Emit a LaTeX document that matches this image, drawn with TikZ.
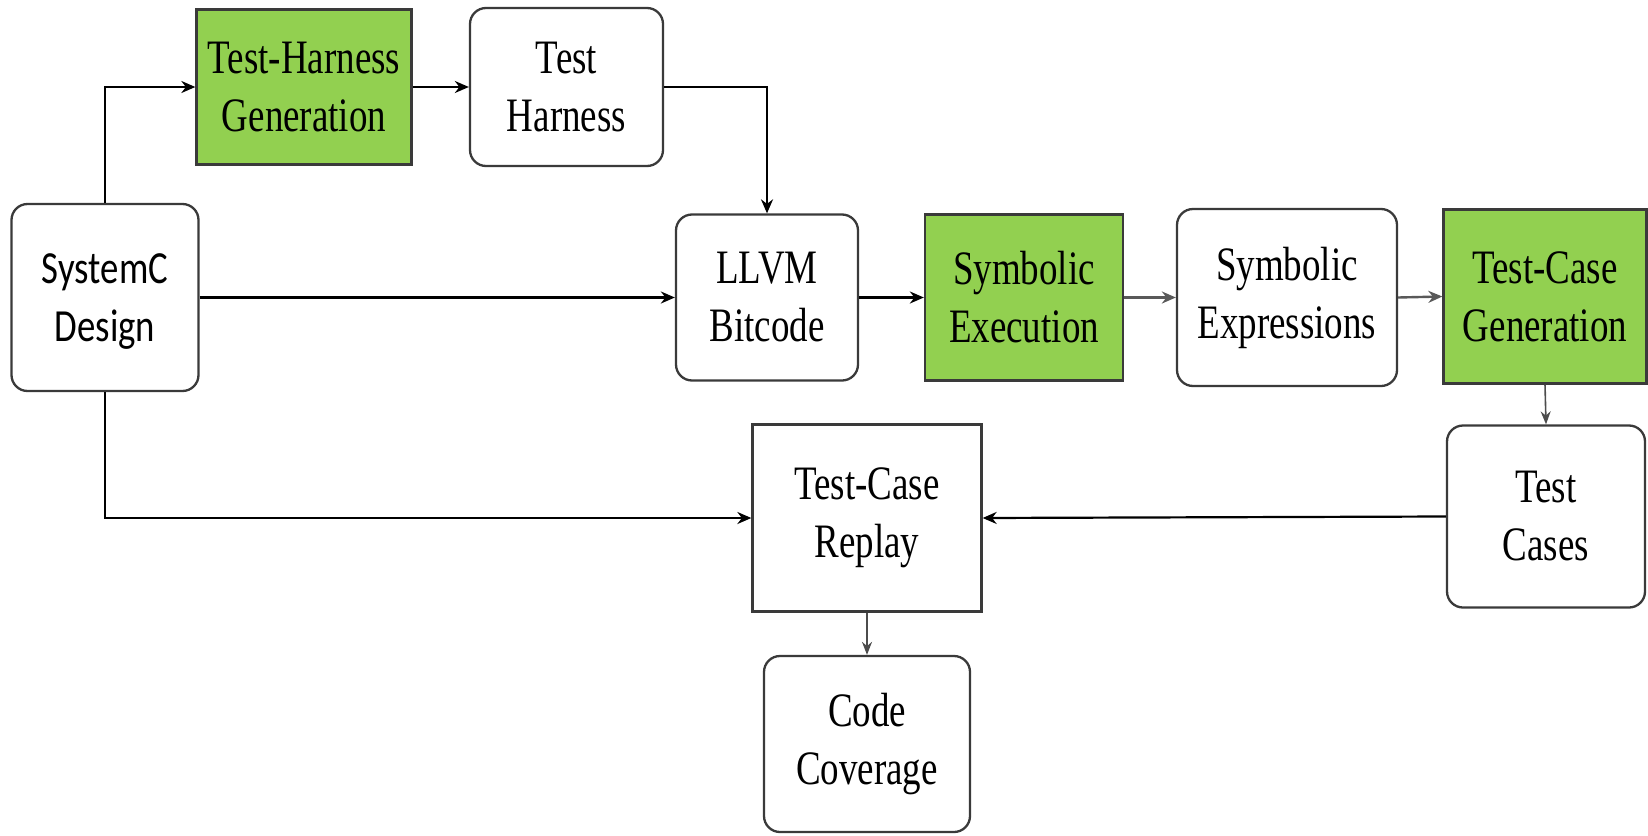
\documentclass[tikz,border=0pt]{standalone}
\usepackage{fontspec}
\setmainfont{Liberation Serif}[FakeStretch=0.77]
\newfontfamily\calib{Carlito}[FakeStretch=0.8]
\usetikzlibrary{arrows.meta}
\definecolor{stepgreen}{HTML}{92D050}
\definecolor{edgegray}{HTML}{3A3A3A}
\tikzset{
  base/.style={draw=edgegray, line width=2.3pt, align=center, inner sep=0pt,
    font=\fontsize{48}{58}\selectfont},
  roundbox/.style={base, rounded corners=16pt, fill=white},
  greenbox/.style={base, fill=stepgreen},
  plainbox/.style={base, fill=white},
  flow/.style={line width=2.2pt, draw=black, -{Stealth[length=14pt,width=12pt]}},
  grayflow/.style={line width=2.4pt, draw=black!65, -{Stealth[length=14pt,width=12pt]}},
  thinflow/.style={line width=1.6pt, draw=black!70, -{Stealth[length=13pt,width=10pt]}}
}
\begin{document}
\begin{tikzpicture}[x=1pt,y=-1pt]
\useasboundingbox (0,0) rectangle (1648,835);

% boxes
\node[roundbox, minimum width=187pt, minimum height=187pt, text depth=0pt,
      font=\calib\fontsize{46}{58}\selectfont] (sysc) at (105,297.5) {SystemC\\Design};
\node[greenbox, minimum width=215pt, minimum height=155pt] (thg) at (304,87) {Test-Harness\\Generation};
\node[roundbox, minimum width=193pt, minimum height=158pt] (th) at (566.5,87) {Test\\Harness};
\node[roundbox, minimum width=182pt, minimum height=166pt] (llvm) at (767,297.5) {LLVM\\Bitcode};
\node[greenbox, minimum width=198pt, minimum height=166pt] (se) at (1024,297.5) {Symbolic\\Execution};
\node[roundbox, minimum width=220pt, minimum height=177pt] (sexp) at (1287,297.5) {Symbolic\\Expressions};
\node[greenbox, minimum width=203pt, minimum height=174pt] (tcg) at (1545,296.5) {Test-Case\\Generation};
\node[roundbox, minimum width=198pt, minimum height=182pt] (tc) at (1546,516.5) {Test\\Cases};
\node[plainbox, minimum width=229pt, minimum height=187pt] (rep) at (867,518) {Test-Case\\Replay};
\node[roundbox, minimum width=206pt, minimum height=176pt] (cc) at (867,744) {Code\\Coverage};

% top branch: design to harness generation, harness into bitcode
\draw[flow] (sysc.north) |- (thg.west);
\draw[flow] (thg.east) -- (th.west);
\draw[flow] (th.east) -| (llvm.north);

% main row
\draw[flow] (sysc.east) -- (llvm.west);
\draw[flow] (llvm.east) -- (se.west);
\draw[grayflow] (se.east) -- (sexp.west);
\draw[grayflow] (sexp.east) -- (tcg.west);
\draw[thinflow] (tcg.south) -- (tc.north);

% replay row
\draw[flow] (tc.west) -- (rep.east);
\draw[flow] (sysc.south) |- (rep.west);
\draw[thinflow] (rep.south) -- (cc.north);
\end{tikzpicture}
\end{document}
